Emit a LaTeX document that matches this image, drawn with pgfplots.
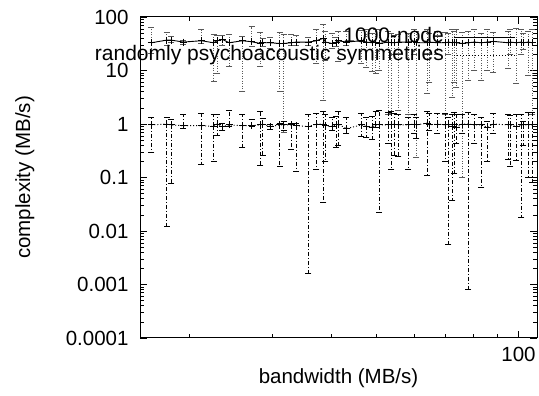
\documentclass[border=0pt]{standalone}
\usepackage{fontspec}
\setmainfont{Liberation Sans}
\usepackage{pgfplots}
\usepackage{pgfplotstable}
\pgfplotsset{compat=1.18}

\pgfplotstableread{
x y1 lo1 hi1 y2 lo2 hi2
16.6 33 21 65 0.96 0.29 1.35
17.9 37 30 51 1.0 0.012 1.35
18.3 37 33 44 0.96 0.077 1.2
19.4 34 31 37 0.93 0.83 1.5
21.2 36 32 60 0.93 0.18 1.6
22.5 33 6.2 48 0.9 0.2 1.5
22.9 36 9 46 1.0 0.62 1.55
23.5 38 30 46 0.9 0.77 1.04
24.3 33 11.8 48 0.96 0.9 1.83
25.9 36 4.0 44 0.93 0.36 1.55
27.1 34.5 28 66 0.93 0.9 1.2
28.3 32 11.8 51 0.96 0.17 1.75
28.6 33 28 40 1.0 0.26 1.3
29.7 33 26 42 0.9 0.8 1.0
31.1 32 4.0 51 0.96 0.16 1.05
31.7 32 0.71 48 0.96 0.75 1.1
32.9 33 29 48 0.96 0.34 1.05
33.7 34 30 45 0.93 0.13 1.05
35.8 34 30 42 0.9 0.0016 1.5
37.2 36 13.8 60 1.0 0.14 1.6
38.5 40 2.8 74 1.0 0.034 1.7
38.9 34 15.7 55 0.93 0.2 1.5
40.2 32 26 50 0.9 0.77 1.35
41.0 34 28 42 0.96 0.37 1.4
41.4 36 14.6 55 1.0 0.4 1.75
43.1 34 30 55 0.82 0.68 1.35
46.4 36 13.8 56 0.96 0.6 1.6
47.5 34 11.5 58 0.9 0.57 1.35
48.9 33 9.5 50 0.87 0.52 1.4
49.7 34 9 58 0.96 0.85 1.75
50.6 32 10 60 0.96 0.022 1.83
52.9 34 1.5 55 0.96 0.44 1.65
53.7 33 1.6 50 0.96 0.14 1.7
54.5 33 20 45 1.0 0.26 1.6
55.6 34 1.8 48 0.96 0.25 1.55
58.3 34 1.5 50 0.96 0.14 1.35
60.1 35 20 60 1.0 0.68 1.5
60.7 33 0.24 55 0.96 0.55 1.35
64.0 33 3.8 58 1.04 0.11 1.75
64.7 34 6.1 50 0.96 0.77 1.6
67.2 33 20 55 1.0 0.68 1.6
69.9 33 1.5 52 0.96 0.2 1.6
71.0 34 20 50 1.0 0.0057 1.35
72.4 33 3.2 60 0.9 0.038 1.5
73.1 34 6.1 55 0.96 0.12 1.65
73.8 33 4.9 58 0.87 0.44 1.55
76.0 32 0.1 52 1.0 0.68 1.5
78.2 33 6.6 55 1.0 0.0008 1.65
80.6 34 10 60 0.96 0.44 1.5
83.4 33 6.6 50 0.96 0.065 1.35
85.9 34 10 58 0.87 0.2 1.1
88.4 35 9.4 52 1.0 0.66 1.6
95.1 33 11 55 0.96 0.22 1.5
96.1 34 20 60 0.96 0.16 1.45
98.9 33 5.8 62 0.9 0.21 1.55
101.4 34 20 58 0.96 0.018 1.55
102.4 33 25 50 0.96 0.4 1.1
104.9 34 8.2 55 0.96 0.1 1.65
107.0 33 1.5 60 0.96 0.08 1.65
}\data

\begin{document}
\begin{tikzpicture}[font=\fontsize{20.5}{20.5}\selectfont]
\begin{axis}[
 at={(0,0)}, anchor=south west,
 scale only axis, width=397pt, height=321pt,
 xmode=log, ymode=log,
 xmin=15.7, xmax=109.5, ymin=0.0001, ymax=100,
 xtick={100}, xticklabels={100},
 minor xtick={20,30,40,50,60,70,80,90},
 ytick={0.0001,0.001,0.01,0.1,1,10,100},
 yticklabels={0.0001,0.001,0.01,0.1,1,10,100},
 minor ytick={0.0002,0.0003,0.0004,0.0005,0.0006,0.0007,0.0008,0.0009,
   0.002,0.003,0.004,0.005,0.006,0.007,0.008,0.009,
   0.02,0.03,0.04,0.05,0.06,0.07,0.08,0.09,
   0.2,0.3,0.4,0.5,0.6,0.7,0.8,0.9,
   2,3,4,5,6,7,8,9,20,30,40,50,60,70,80,90},
 tick align=inside,
 major tick length=7pt, minor tick length=4pt,
 every tick/.style={black, line width=0.6pt},
 axis line style={line width=1pt},
 font=\fontsize{20.5}{20.5}\selectfont,
 /pgf/number format/assume math mode=true,
 xticklabel style={yshift=-6pt},
 yticklabel style={xshift=-8pt},
 xlabel={bandwidth (MB/s)},
 ylabel={complexity (MB/s)},
 every axis x label/.style={at={(axis description cs:0.5,0)}, anchor=north, yshift=-27pt},
 every axis y label/.style={at={(axis description cs:0,0.5)}, xshift=-102pt, rotate=90, anchor=south},
 legend cell align=right,
 legend plot pos=right,
 legend image code/.code={\draw[#1] (0pt,0pt) -- (61pt,0pt);},
 legend style={draw=none, fill=none, at={(axis description cs:0.947,0.966)}, anchor=north east,
   inner sep=0pt, row sep=0pt, column sep=10pt,
   nodes={inner sep=0pt, text height=14pt, text depth=4pt},
   font=\fontsize{21}{21}\selectfont},
]
\addplot[black, line width=0.9pt, mark=+, mark size=3.5pt, mark options={solid},
  error bars/.cd, y dir=both, y explicit,
  error bar style={black!65, dash pattern=on 1pt off 1.5pt, line width=0.7pt},
  error mark options={rotate=90, mark size=3pt, black!65, solid, line width=0.6pt}]
  table[x=x, y=y1, y error plus expr=\thisrow{hi1}-\thisrow{y1}, y error minus expr=\thisrow{y1}-\thisrow{lo1}] {\data};
\addlegendentry{1000-node}
\addplot[black, line width=0.9pt, dash pattern=on 1pt off 2pt, mark=+, mark size=3.5pt, mark options={solid},
  error bars/.cd, y dir=both, y explicit,
  error bar style={black, dash pattern=on 4pt off 2pt on 1pt off 2pt, line width=0.7pt},
  error mark options={rotate=90, mark size=3pt, black, solid, line width=0.6pt}]
  table[x=x, y=y2, y error plus expr=\thisrow{hi2}-\thisrow{y2}, y error minus expr=\thisrow{y2}-\thisrow{lo2}] {\data};
\addlegendentry{randomly psychoacoustic symmetries}
\end{axis}
\pgfresetboundingbox
\path (-140pt,-58pt) rectangle (399pt,338pt);
\end{tikzpicture}
\end{document}
